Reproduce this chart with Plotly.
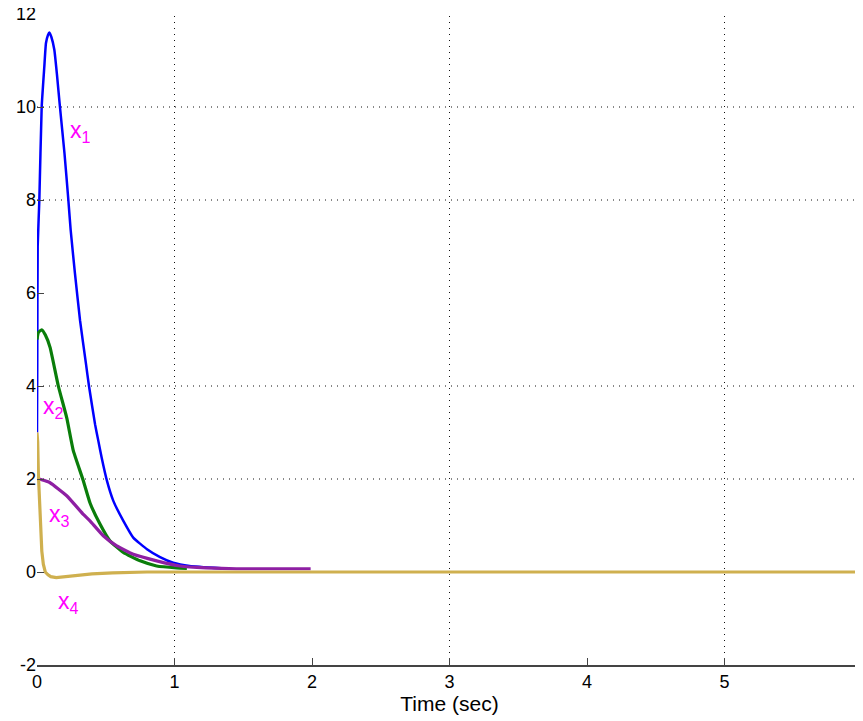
import plotly.graph_objects as go

# ---- data ----
t_x1 = [0, 0.002, 0.005, 0.017, 0.034, 0.053, 0.065, 0.08, 0.09, 0.105, 0.126, 0.145, 0.167, 0.2, 0.228,
        0.245, 0.276, 0.313, 0.356, 0.378, 0.422, 0.446, 0.47, 0.507, 0.555, 0.628, 0.70, 0.80, 0.895,
        0.99, 1.11, 1.34]
v_x1 = [3.0, 4.5, 7.0, 8.0, 10.0, 10.86, 11.37, 11.55, 11.6, 11.5, 11.23, 10.7, 10.0, 9.0, 8.0,
        7.35, 6.42, 5.41, 4.48, 4.0, 3.18, 2.82, 2.46, 1.98, 1.53, 1.1, 0.74, 0.49, 0.32,
        0.2, 0.13, 0.08]

t_x2 = [0, 0.01, 0.034, 0.06, 0.095, 0.155, 0.216, 0.264, 0.335, 0.385, 0.458, 0.53, 0.628, 0.75,
        0.87, 1.016, 1.09]
v_x2 = [5.0, 5.15, 5.21, 5.1, 4.83, 4.0, 3.32, 2.61, 1.98, 1.49, 1.03, 0.67, 0.42, 0.24,
        0.13, 0.09, 0.08]

t_x3 = [0, 0.017, 0.095, 0.216, 0.337, 0.385, 0.482, 0.58, 0.70, 0.87, 1.04, 1.23, 1.45, 1.99]
v_x3 = [2.0, 2.0, 1.92, 1.64, 1.24, 1.1, 0.78, 0.56, 0.38, 0.24, 0.13, 0.09, 0.07, 0.07]

t_x4 = [0, 0.005, 0.01, 0.017, 0.027, 0.035, 0.046, 0.06, 0.08, 0.1, 0.14, 0.2, 0.3, 0.4, 0.55, 0.8, 6.0]
v_x4 = [3.0, 2.8, 2.1, 1.5, 0.8, 0.45, 0.17, 0.0, -0.06, -0.1, -0.12, -0.1, -0.06, -0.04, -0.02, 0.0, 0.0]

x_ticks = [0, 1, 2, 3, 4, 5, 6]
y_ticks = [-2, 0, 2, 4, 6, 8, 10, 12]
grid_x = [1, 3, 5]
grid_y = [2, 4, 8, 10]

labels = ["x<sub>1</sub>", "x<sub>2</sub>", "x<sub>3</sub>", "x<sub>4</sub>"]
label_t = [0.225, 0.03, 0.075, 0.14]
label_v = [9.83, 3.9, 1.57, -0.3]

FONT = "Liberation Sans, Arial, sans-serif"

fig = go.Figure()
series = [
    (t_x1, v_x1, "#0000FF", 2.5, "spline"),
    (t_x2, v_x2, "#0A7D0A", 3.2, "spline"),
    (t_x3, v_x3, "#8E1FA3", 3.2, "spline"),
    (t_x4, v_x4, "#CFB04F", 3.2, "linear"),
]
for t, v, c, w, s in series:
    ln = dict(color=c, width=w, shape=s)
    if s == "spline":
        ln["smoothing"] = 0.4
    fig.add_trace(go.Scatter(x=t, y=v, mode="lines", line=ln,
                             showlegend=False, hoverinfo="skip"))

shapes = []
for gx in grid_x:
    shapes.append(dict(type="line", xref="x", yref="paper", x0=gx, x1=gx, y0=0, y1=1,
                       line=dict(color="#111111", width=1, dash="1px,5px"), layer="below"))
for gy in grid_y:
    shapes.append(dict(type="line", xref="paper", yref="y", x0=0, x1=1, y0=gy, y1=gy,
                       line=dict(color="#111111", width=1, dash="1px,5px"), layer="below"))
# right border line (light)
shapes.append(dict(type="line", xref="paper", yref="paper", x0=1, x1=1, y0=0, y1=1,
                   line=dict(color="#BBBBBB", width=1.5), layer="below"))

annotations = []
for txt, lt, lv in zip(labels, label_t, label_v):
    annotations.append(dict(x=lt, y=lv, xref="x", yref="y", text=txt, showarrow=False,
                            xanchor="left", yanchor="top",
                            font=dict(family=FONT, size=23, color="#FF00FF")))

# the page body has an 8px margin, so the figure is a bit smaller than the window
fig.update_layout(
    width=855, height=713,
    margin=dict(l=29, r=1, t=6, b=56),
    plot_bgcolor="white", paper_bgcolor="white",
    shapes=shapes, annotations=annotations,
    xaxis=dict(range=[0, 6], tickvals=x_ticks, ticktext=[str(v) for v in x_ticks],
               automargin=False, ticklabeloverflow="allow",
               showgrid=False, zeroline=False, showline=True, linecolor="#444444", linewidth=1.5,
               ticks="inside", ticklen=7, tickcolor="#444444",
               tickfont=dict(family=FONT, size=18, color="black"),
               title=dict(text="Time (sec)", font=dict(family=FONT, size=21, color="black"), standoff=2)),
    yaxis=dict(range=[-2, 12], tickvals=y_ticks, ticktext=[str(v) for v in y_ticks],
               automargin=False, ticklabeloverflow="allow",
               showgrid=False, zeroline=False, showline=False,
               ticks="inside", ticklen=7, tickcolor="#444444",
               tickfont=dict(family=FONT, size=18, color="black")),
)

fig.write_html("out.html")
